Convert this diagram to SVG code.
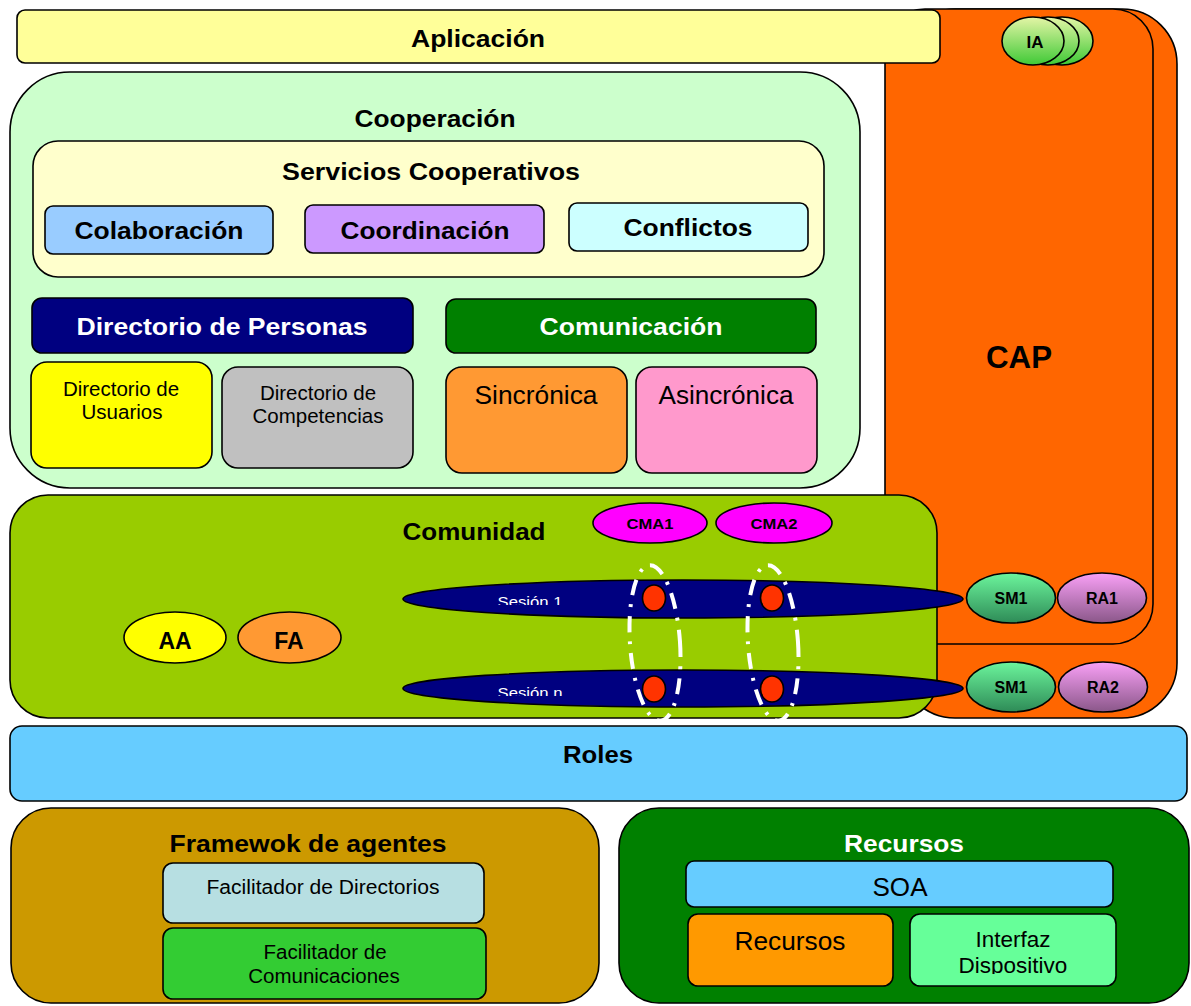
<svg xmlns="http://www.w3.org/2000/svg" width="1191" height="1006" viewBox="0 0 1191 1006">
<defs>
<style>
.s{stroke:#000;stroke-width:1.6}
.b{font-family:"Liberation Sans",Arial,sans-serif;font-weight:bold;text-anchor:middle;fill:#000}
.r{font-family:"Liberation Sans",Arial,sans-serif;text-anchor:middle;fill:#000}
.w{fill:#fff}
.dd{fill:none;stroke:#fff;stroke-width:4;stroke-dasharray:16 9 3 9}
</style>
<linearGradient id="gIA" x1="0" y1="0" x2="0" y2="1"><stop offset="0" stop-color="#e4f5a6"/><stop offset="1" stop-color="#3fc936"/></linearGradient>
<linearGradient id="gSM" x1="0" y1="0" x2="0" y2="1"><stop offset="0" stop-color="#6cf59c"/><stop offset="1" stop-color="#2e8b57"/></linearGradient>
<linearGradient id="gRA" x1="0" y1="0" x2="0" y2="1"><stop offset="0" stop-color="#f9a0f6"/><stop offset="1" stop-color="#8a5789"/></linearGradient>
<clipPath id="c1"><rect x="400" y="585" width="300" height="20"/></clipPath>
<clipPath id="c2"><rect x="400" y="675" width="300" height="21"/></clipPath>
<clipPath id="c3"><rect x="912" y="950" width="200" height="24"/></clipPath>
</defs>

<g id="cap">
<rect class="s" x="900" y="9" width="277" height="709" rx="55" fill="#ff6600"/>
<rect class="s" x="885" y="9" width="268" height="635" rx="40" fill="#ff6600"/>
<text class="b" x="1019" y="368" font-size="31" textLength="66" lengthAdjust="spacingAndGlyphs">CAP</text>
</g>

<g id="aplicacion">
<rect class="s" x="17" y="10" width="923" height="53" rx="8" fill="#ffff99"/>
<text class="b" x="478" y="47" font-size="24" textLength="134" lengthAdjust="spacingAndGlyphs">Aplicación</text>
</g>

<g id="ia">
<ellipse class="s" cx="1062" cy="41" rx="31" ry="24" fill="url(#gIA)"/>
<ellipse class="s" cx="1048" cy="41" rx="31" ry="24" fill="url(#gIA)"/>
<ellipse class="s" cx="1033" cy="41" rx="31" ry="24" fill="url(#gIA)"/>
<text class="b" x="1035" y="48" font-size="17">IA</text>
</g>

<g id="cooperacion">
<rect class="s" x="10" y="72" width="850" height="416" rx="60" fill="#ccffcc"/>
<text class="b" x="435" y="127" font-size="24" textLength="161" lengthAdjust="spacingAndGlyphs">Cooperación</text>
</g>

<g id="servicios">
<rect class="s" x="33" y="141" width="791" height="136" rx="25" fill="#ffffcc"/>
<text class="b" x="431" y="180" font-size="23.5" textLength="298" lengthAdjust="spacingAndGlyphs">Servicios Cooperativos</text>
</g>

<g id="colaboracion">
<rect class="s" x="45" y="206" width="228" height="48" rx="8" fill="#99ccff"/>
<text class="b" x="159" y="239" font-size="24" textLength="169" lengthAdjust="spacingAndGlyphs">Colaboración</text>
</g>
<g id="coordinacion">
<rect class="s" x="305" y="205" width="239" height="48" rx="8" fill="#cc99ff"/>
<text class="b" x="425" y="239" font-size="24" textLength="169" lengthAdjust="spacingAndGlyphs">Coordinación</text>
</g>
<g id="conflictos">
<rect class="s" x="569" y="203" width="239" height="48" rx="8" fill="#ccffff"/>
<text class="b" x="688" y="236" font-size="24" textLength="129" lengthAdjust="spacingAndGlyphs">Conflictos</text>
</g>

<g id="dirpersonas">
<rect class="s" x="32" y="298" width="381" height="55" rx="10" fill="#000080"/>
<text class="b w" x="222" y="335" font-size="24" textLength="291" lengthAdjust="spacingAndGlyphs">Directorio de Personas</text>
</g>
<g id="dirusuarios">
<rect class="s" x="31" y="362" width="181" height="106" rx="16" fill="#ffff00"/>
<text class="r" x="121" y="396" font-size="20.5">Directorio de</text>
<text class="r" x="122" y="419" font-size="20.5">Usuarios</text>
</g>
<g id="dircompetencias">
<rect class="s" x="222" y="367" width="191" height="101" rx="16" fill="#c0c0c0"/>
<text class="r" x="318" y="400" font-size="20.5">Directorio de</text>
<text class="r" x="318" y="423" font-size="20.5">Competencias</text>
</g>

<g id="comunicacion">
<rect class="s" x="446" y="299" width="370" height="54" rx="10" fill="#008000"/>
<text class="b w" x="631" y="335" font-size="24" textLength="183" lengthAdjust="spacingAndGlyphs">Comunicación</text>
</g>
<g id="sincronica">
<rect class="s" x="446" y="367" width="181" height="106" rx="16" fill="#ff9933"/>
<text class="r" x="536" y="404" font-size="25" textLength="123" lengthAdjust="spacingAndGlyphs">Sincrónica</text>
</g>
<g id="asincronica">
<rect class="s" x="636" y="367" width="181" height="106" rx="16" fill="#ff99cc"/>
<text class="r" x="726" y="404" font-size="25" textLength="135" lengthAdjust="spacingAndGlyphs">Asincrónica</text>
</g>

<g id="comunidad">
<rect class="s" x="10" y="495" width="927" height="223" rx="38" fill="#99cc00"/>
<text class="b" x="474" y="540" font-size="24" textLength="143" lengthAdjust="spacingAndGlyphs">Comunidad</text>
</g>
<g id="cma1">
<ellipse class="s" cx="650" cy="523" rx="57" ry="20" fill="#ff00ff"/>
<text class="b" x="650" y="529" font-size="14" textLength="47" lengthAdjust="spacingAndGlyphs">CMA1</text>
</g>
<g id="cma2">
<ellipse class="s" cx="774" cy="523" rx="58" ry="20" fill="#ff00ff"/>
<text class="b" x="774" y="529" font-size="14" textLength="47" lengthAdjust="spacingAndGlyphs">CMA2</text>
</g>
<g id="aa">
<ellipse class="s" cx="175" cy="637.5" rx="51" ry="25.5" fill="#ffff00"/>
<text class="b" x="175" y="649" font-size="23">AA</text>
</g>
<g id="fa">
<ellipse class="s" cx="289.5" cy="637.5" rx="51.5" ry="25.5" fill="#ff9933"/>
<text class="b" x="289" y="649" font-size="23">FA</text>
</g>

<g id="sesion1">
<ellipse class="s" cx="683" cy="599" rx="280" ry="19" fill="#000080"/>
<text class="r w" x="530" y="607" font-size="14.5" textLength="65" lengthAdjust="spacingAndGlyphs" clip-path="url(#c1)">Sesión 1</text>
</g>
<g id="sesionn">
<ellipse class="s" cx="683" cy="688.5" rx="280" ry="18.5" fill="#000080"/>
<text class="r w" x="530" y="698" font-size="14.5" textLength="65" lengthAdjust="spacingAndGlyphs" clip-path="url(#c2)">Sesión n</text>
</g>

<g id="sm1a">
<ellipse class="s" cx="1011" cy="598" rx="44.5" ry="25" fill="url(#gSM)"/>
<text class="b" x="1011" y="604" font-size="16">SM1</text>
</g>
<g id="ra1">
<ellipse class="s" cx="1102" cy="598" rx="44.5" ry="25" fill="url(#gRA)"/>
<text class="b" x="1102" y="604" font-size="16">RA1</text>
</g>
<g id="sm1b">
<ellipse class="s" cx="1011" cy="687" rx="44.5" ry="25" fill="url(#gSM)"/>
<text class="b" x="1011" y="693" font-size="16">SM1</text>
</g>
<g id="ra2">
<ellipse class="s" cx="1103" cy="687" rx="44.5" ry="25" fill="url(#gRA)"/>
<text class="b" x="1103" y="693" font-size="16">RA2</text>
</g>

<g id="dots">
<ellipse class="s" cx="654" cy="598" rx="11.5" ry="13" fill="#ff3300"/>
<ellipse class="s" cx="772" cy="598" rx="11.5" ry="13" fill="#ff3300"/>
<ellipse class="s" cx="654" cy="689" rx="11.5" ry="13" fill="#ff3300"/>
<ellipse class="s" cx="772" cy="689" rx="11.5" ry="13" fill="#ff3300"/>
</g>

<g id="connectors">
<ellipse class="dd" cx="655" cy="643" rx="25" ry="78" transform="rotate(-4 655 643)"/>
<ellipse class="dd" cx="773" cy="643" rx="25" ry="78" transform="rotate(-4 773 643)"/>
</g>

<g id="roles">
<rect class="s" x="10" y="726" width="1177" height="75" rx="12" fill="#66ccff"/>
<text class="b" x="598" y="763" font-size="23" textLength="70" lengthAdjust="spacingAndGlyphs">Roles</text>
</g>

<g id="framework">
<rect class="s" x="11" y="808" width="588" height="195" rx="40" fill="#cc9900"/>
<text class="b" x="308" y="852" font-size="24" textLength="277" lengthAdjust="spacingAndGlyphs">Framewok de agentes</text>
</g>
<g id="facdirectorios">
<rect class="s" x="163" y="863" width="321" height="60" rx="10" fill="#b7dfe2"/>
<text class="r" x="323" y="894" font-size="20" textLength="233" lengthAdjust="spacingAndGlyphs">Facilitador de Directorios</text>
</g>
<g id="faccomunicaciones">
<rect class="s" x="163" y="928" width="323" height="71" rx="10" fill="#33cc33"/>
<text class="r" x="325" y="959" font-size="20.5">Facilitador de</text>
<text class="r" x="324" y="983" font-size="20.5">Comunicaciones</text>
</g>

<g id="recursos">
<rect class="s" x="619" y="808" width="570" height="195" rx="40" fill="#008000"/>
<text class="b w" x="904" y="852" font-size="24" textLength="120" lengthAdjust="spacingAndGlyphs">Recursos</text>
</g>
<g id="soa">
<rect class="s" x="686" y="861" width="427" height="46" rx="8" fill="#66ccff"/>
<text class="r" x="900" y="896" font-size="25" textLength="55" lengthAdjust="spacingAndGlyphs">SOA</text>
</g>
<g id="recursosint">
<rect class="s" x="688" y="914" width="205" height="72" rx="10" fill="#ff9900"/>
<text class="r" x="790" y="950" font-size="25" textLength="111" lengthAdjust="spacingAndGlyphs">Recursos</text>
</g>
<g id="interfaz">
<rect class="s" x="910" y="914" width="206" height="72" rx="10" fill="#66ff99"/>
<text class="r" x="1013" y="947" font-size="22.5">Interfaz</text>
<text class="r" x="1013" y="973" font-size="22.5" clip-path="url(#c3)">Dispositivo</text>
</g>
</svg>
